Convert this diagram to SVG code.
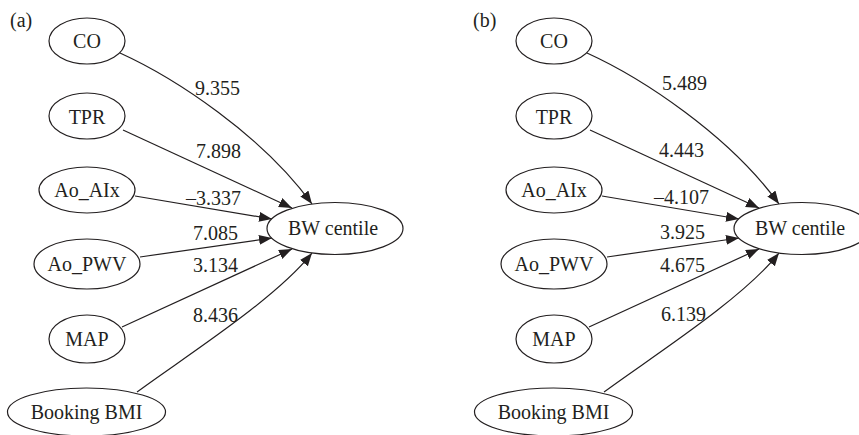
<svg xmlns="http://www.w3.org/2000/svg" width="859" height="435" viewBox="0 0 859 435">
<style>
text{font-family:"Liberation Serif","Times New Roman",Times,"DejaVu Serif","Noto Serif",serif;font-size:20px;fill:#231f20}
.n ellipse{fill:#fff;stroke:#231f20;stroke-width:1.2}
.n text{text-anchor:middle}
.e path{fill:none;stroke:#231f20;stroke-width:1.2;marker-end:url(#ah)}
</style>
<defs>
<marker id="ah" markerUnits="userSpaceOnUse" markerWidth="14" markerHeight="12" refX="13" refY="5" orient="auto">
<path d="M0,0 L13,5 L0,10 Z" fill="#231f20"/>
</marker>
</defs>
<rect width="859" height="435" fill="#fff"/>
<g id="panelA">
<text x="10" y="27" font-family="Liberation Serif">(a)</text>
<g id="connectorsA" class="e">
<path d="M120,53 C175,78 262,135 312,204"/>
<path d="M123,130 L292,208"/>
<path d="M135,196 L272,219"/>
<path d="M140,257 L272,238"/>
<path d="M122,327 L292,249"/>
<path d="M137,392 C180,360 275,300 312,253"/>
</g>
<g id="labelsA" font-family="Liberation Serif">
<text x="195" y="95">9.355</text>
<text x="196" y="158">7.898</text>
<text x="186" y="205">–3.337</text>
<text x="193" y="240">7.085</text>
<text x="193" y="272">3.134</text>
<text x="193" y="322">8.436</text>
</g>
<g id="a_CO" class="n"><ellipse cx="87" cy="41" rx="38" ry="23"/><text x="87" y="48">CO</text></g>
<g id="a_TPR" class="n"><ellipse cx="87" cy="116" rx="38" ry="23"/><text x="87" y="124">TPR</text></g>
<g id="a_AoAIx" class="n"><ellipse cx="87" cy="190" rx="48" ry="23"/><text x="87" y="197">Ao_AIx</text></g>
<g id="a_AoPWV" class="n"><ellipse cx="87" cy="264" rx="53" ry="25"/><text x="87" y="271">Ao_PWV</text></g>
<g id="a_MAP" class="n"><ellipse cx="87" cy="339" rx="38" ry="24"/><text x="87" y="346">MAP</text></g>
<g id="a_BMI" class="n"><ellipse cx="86.5" cy="412" rx="79" ry="24"/><text x="86.5" y="419">Booking BMI</text></g>
<g id="a_BW" class="n"><ellipse cx="335" cy="228.5" rx="68" ry="26"/><text x="333" y="235">BW centile</text></g>
</g>
<g id="panelB" transform="translate(467,0)">
<text x="6" y="27">(b)</text>
<g id="connectorsB" class="e">
<path d="M120,53 C175,78 262,135 312,204"/>
<path d="M123,130 L292,208"/>
<path d="M135,196 L272,219"/>
<path d="M140,257 L272,238"/>
<path d="M122,327 L292,249"/>
<path d="M137,392 C180,360 275,300 312,253"/>
</g>
<g id="labelsB">
<text x="195" y="90">5.489</text>
<text x="192" y="157">4.443</text>
<text x="187" y="204">–4.107</text>
<text x="193" y="239">3.925</text>
<text x="193" y="272">4.675</text>
<text x="194" y="321">6.139</text>
</g>
<g id="b_CO" class="n"><ellipse cx="87" cy="41" rx="38" ry="23"/><text x="87" y="48">CO</text></g>
<g id="b_TPR" class="n"><ellipse cx="87" cy="116" rx="38" ry="23"/><text x="87" y="124">TPR</text></g>
<g id="b_AoAIx" class="n"><ellipse cx="87" cy="190" rx="48" ry="23"/><text x="87" y="197">Ao_AIx</text></g>
<g id="b_AoPWV" class="n"><ellipse cx="87" cy="264" rx="53" ry="25"/><text x="87" y="271">Ao_PWV</text></g>
<g id="b_MAP" class="n"><ellipse cx="87" cy="339" rx="38" ry="24"/><text x="87" y="346">MAP</text></g>
<g id="b_BMI" class="n"><ellipse cx="86.5" cy="412" rx="79" ry="24"/><text x="86.5" y="419">Booking BMI</text></g>
<g id="b_BW" class="n"><ellipse cx="335" cy="228.5" rx="68" ry="26"/><text x="333" y="235">BW centile</text></g>
</g>
</svg>
